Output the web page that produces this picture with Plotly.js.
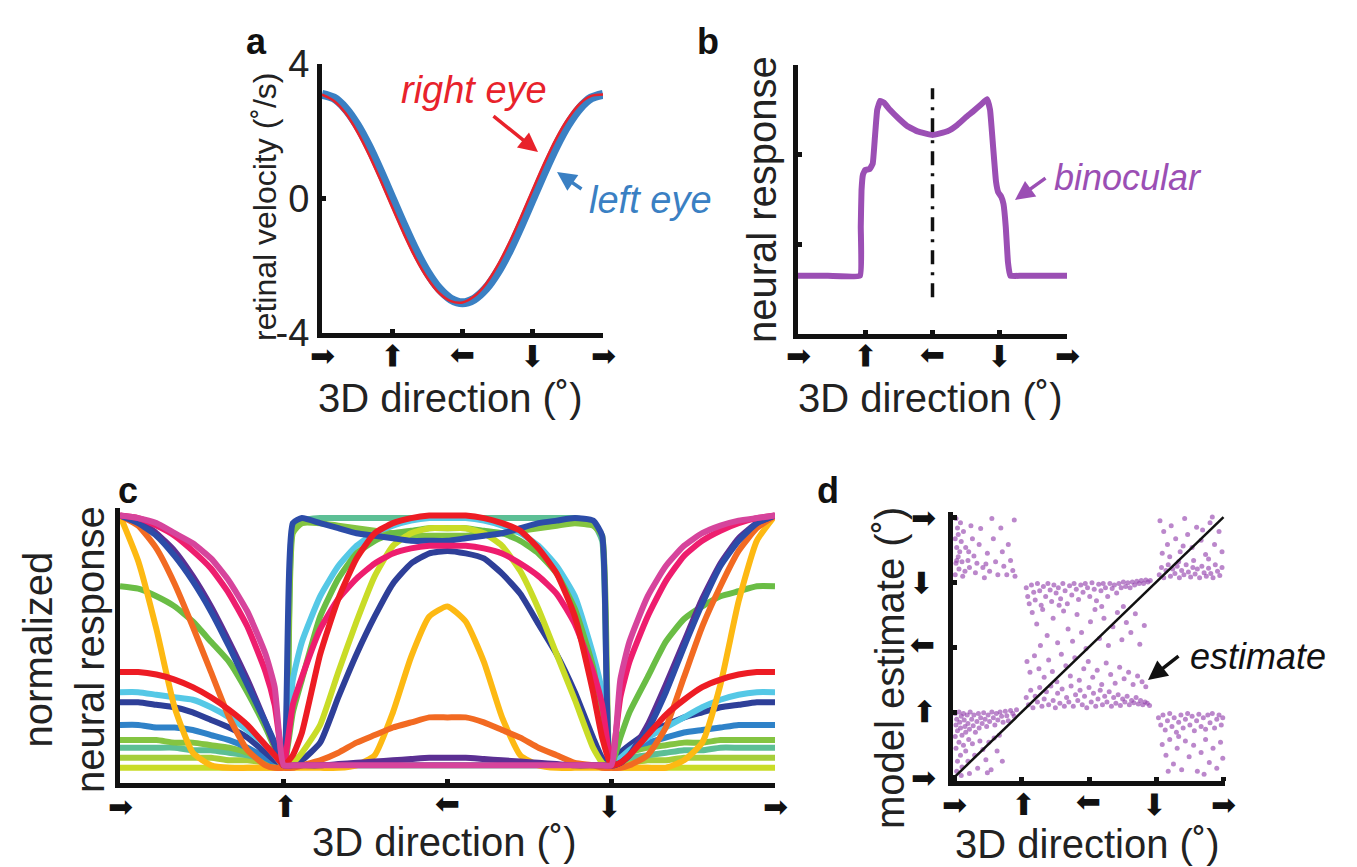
<!DOCTYPE html>
<html>
<head>
<meta charset="utf-8">
<script src="https://cdn.plot.ly/plotly-3.0.1.min.js"></script>
<style>html,body{margin:0;padding:0;background:#fff;}#fig{width:1357px;height:867px;}</style>
</head>
<body>
<div id="fig"></div>
<script>
// ---------- shared tick data ----------
const dirTicks = [0, 90, 180, 270, 360];
const dirArrowGlyph = '➡';
const dirArrowAngles = [0, -90, 180, 90, 0];   // right, up(toward), left, down(away), right

// ---------- panel a: retinal velocity ----------
const velDir = [0,15,30,45,60,75,90,105,120,135,150,165,180,195,210,225,240,255,270,285,300,315,330,345,360];
const leftEyeVel = [3.1,2.99,2.68,2.19,1.55,0.80,0,-0.80,-1.55,-2.19,-2.68,-2.99,-3.1,-2.99,-2.68,-2.19,-1.55,-0.80,0,0.80,1.55,2.19,2.68,2.99,3.1];
const rightEyeVel = [3.09,2.91,2.54,1.99,1.31,0.54,-0.27,-1.06,-1.78,-2.37,-2.81,-3.05,-3.09,-2.91,-2.54,-1.99,-1.31,-0.54,0.27,1.06,1.78,2.37,2.81,3.05,3.09];
const velTicks = [-4, 0, 4];
const velTickText = ['-4', '0', '4'];

// ---------- panel b: binocular response ----------
const binDir = [0,40,83,84,85,87,90,96,100,103,106,110,115,123,135,146,160,180,200,213,225,234,245,253,257,261,265,268,272,275,278,281,284,300,360];
const binResp = [0.65,0.65,0.65,1.2,1.6,1.78,1.83,1.84,1.9,2.2,2.5,2.6,2.58,2.5,2.4,2.32,2.26,2.22,2.26,2.33,2.42,2.48,2.56,2.62,2.5,2.1,1.7,1.58,1.53,1.45,1.2,0.8,0.65,0.65,0.65];
const midlineDir = [180, 180];
const midlineResp = [0.41, 2.74];

// ---------- panel c: normalized population responses ----------
const popDir = [0,10,20,30,40,50,60,70,80,85,90,95,100,110,120,130,140,150,160,170,180,190,200,210,220,230,240,250,260,265,270,275,280,290,300,310,320,330,340,350,360];
const respLightGreen = [0.04,0.04,0.04,0.04,0.04,0.04,0.03,0.03,0.02,0.01,0.01, 0.01,0.01,0.01,0.01,0.01,0.01,0.01,0.01,0.01,0.01,0.01,0.01,0.01,0.01,0.01,0.01,0.01,0.01,0.01, 0.01,0.02,0.02,0.03,0.03,0.04,0.04,0.04,0.04,0.04,0.04];
const respTeal = [0.08,0.08,0.08,0.08,0.07,0.07,0.06,0.05,0.03,0.01,0.01, 0.95,0.98,0.99,0.99,0.99,0.99,0.99,0.99,0.99,0.99,0.99,0.99,0.99,0.99,0.99,0.99,0.99,0.97,0.9, 0.01,0.03,0.04,0.05,0.06,0.07,0.07,0.08,0.08,0.08,0.08];
const respGreenSquare = [0.11,0.11,0.11,0.1,0.1,0.09,0.08,0.06,0.03,0.02,0.01, 0.93,0.97,0.97,0.96,0.95,0.94,0.93,0.92,0.92,0.92,0.92,0.93,0.93,0.94,0.95,0.96,0.97,0.96,0.92, 0.01,0.04,0.06,0.08,0.09,0.1,0.1,0.11,0.11,0.11,0.11];
const respMidBlue = [0.17,0.17,0.16,0.16,0.15,0.13,0.11,0.08,0.04,0.02,0.01, 0.01,0.01,0.01,0.01,0.01,0.01,0.01,0.01,0.01,0.01,0.01,0.01,0.01,0.01,0.01,0.01,0.01,0.01,0.01, 0.01,0.06,0.08,0.1,0.12,0.14,0.15,0.16,0.17,0.17,0.17];
const respDarkBlueArch = [0.26,0.26,0.25,0.24,0.22,0.19,0.16,0.12,0.06,0.03,0.01, 0.01,0.03,0.1,0.28,0.45,0.6,0.73,0.81,0.85,0.86,0.85,0.83,0.77,0.69,0.57,0.45,0.3,0.12,0.04, 0.01,0.06,0.09,0.14,0.17,0.2,0.22,0.24,0.25,0.26,0.26];
const respCyan = [0.3,0.3,0.29,0.28,0.27,0.24,0.2,0.15,0.09,0.05,0.01, 0.35,0.5,0.68,0.8,0.88,0.93,0.96,0.98,0.99,0.99,0.99,0.98,0.96,0.93,0.88,0.8,0.68,0.45,0.3, 0.01,0.04,0.07,0.12,0.16,0.2,0.24,0.27,0.29,0.3,0.3];
const respGreen = [0.72,0.71,0.68,0.64,0.58,0.5,0.42,0.3,0.16,0.08,0.01, 0.22,0.35,0.6,0.75,0.85,0.9,0.93,0.94,0.95,0.95,0.95,0.94,0.93,0.9,0.85,0.77,0.63,0.4,0.2, 0.01,0.12,0.22,0.36,0.5,0.59,0.64,0.68,0.7,0.72,0.72];
const respLime = [0,0,0,0,0,0,0,0,0,0,0, 0.02,0.06,0.17,0.38,0.58,0.76,0.88,0.93,0.95,0.95,0.95,0.93,0.88,0.78,0.63,0.45,0.27,0.08,0.02, 0,0,0,0,0,0,0,0,0,0,0];
const respYellow = [1,0.82,0.55,0.24,0.06,0.01,0,0,0,0,0, 0,0,0,0,0.01,0.05,0.22,0.44,0.6,0.64,0.58,0.42,0.2,0.05,0.01,0,0,0,0, 0,0,0,0,0,0.03,0.1,0.33,0.66,0.9,1];
const respOrange = [1,0.96,0.87,0.73,0.56,0.38,0.2,0.07,0.01,0,0, 0,0.01,0.03,0.06,0.1,0.13,0.16,0.18,0.2,0.2,0.2,0.18,0.15,0.12,0.08,0.05,0.02,0.01,0, 0,0,0.01,0.05,0.16,0.36,0.56,0.72,0.86,0.95,1];
const respPurple = [1,0.98,0.93,0.86,0.76,0.64,0.5,0.35,0.18,0.09,0.01, 0.01,0.01,0.01,0.015,0.02,0.025,0.03,0.035,0.04,0.04,0.04,0.035,0.03,0.025,0.02,0.015,0.01,0.01,0.01, 0.01,0.02,0.05,0.17,0.33,0.5,0.67,0.81,0.91,0.97,1];
const respDarkBlueSquare = [1,0.97,0.92,0.84,0.74,0.62,0.48,0.33,0.18,0.1,0.01, 0.97,0.99,0.97,0.95,0.93,0.92,0.91,0.9,0.9,0.9,0.91,0.92,0.93,0.95,0.97,0.98,0.99,0.98,0.92, 0.01,0.02,0.05,0.15,0.3,0.48,0.65,0.8,0.9,0.97,1];
const respPink = [1,0.99,0.96,0.92,0.86,0.79,0.69,0.56,0.38,0.25,0.01, 0.25,0.36,0.55,0.67,0.75,0.81,0.85,0.87,0.88,0.88,0.88,0.87,0.85,0.81,0.76,0.69,0.57,0.38,0.25, 0.01,0.28,0.42,0.6,0.74,0.84,0.9,0.94,0.97,0.99,1];
const respRed = [0.38,0.38,0.37,0.35,0.32,0.28,0.23,0.17,0.09,0.05,0.01, 0.05,0.14,0.45,0.67,0.83,0.93,0.97,0.99,1.0,1.0,1.0,0.99,0.97,0.94,0.87,0.77,0.6,0.3,0.12, 0.01,0.02,0.05,0.13,0.21,0.27,0.32,0.35,0.37,0.38,0.38];
const respMagenta = [1,0.99,0.97,0.93,0.89,0.83,0.74,0.62,0.45,0.32,0.01, 0.01,0.01,0.01,0.01,0.01,0.01,0.01,0.01,0.01,0.01,0.01,0.01,0.01,0.01,0.01,0.01,0.01,0.01,0.01, 0.01,0.35,0.5,0.68,0.8,0.88,0.93,0.96,0.98,0.99,1];

// ---------- panel d: model estimates (direction, estimate) ----------
const estTopLeft = [[2,358],[4,345],[1,330],[3,318],[5,305],[2,296],[6,288],[1,280],[8,352],[9,326],[7,312],[10,298],[12,340],[14,285],[11,278],[15,318],[18,300],[20,290],[22,348],[24,330],[26,306],[28,283],[30,296],[33,322],[35,344],[38,290],[40,276],[44,310],[47,285],[50,358],[52,330],[55,298],[58,280],[62,345],[64,312],[66,292],[70,280],[72,322],[75,300],[78,286],[80,356],[81,278],[3,300],[5,336],[19,312],[42,295]];
const estBottomLeft = [[1,88],[3,80],[2,72],[4,64],[1,56],[6,90],[7,76],[8,68],[9,84],[10,58],[12,88],[13,79],[14,70],[15,62],[17,86],[18,74],[20,66],[21,90],[23,80],[25,71],[26,86],[28,62],[30,77],[32,88],[33,68],[35,82],[37,74],[39,89],[41,80],[43,70],[45,86],[47,77],[50,90],[52,82],[54,72],[56,88],[58,79],[61,90],[63,84],[65,76],[68,91],[70,85],[72,78],[75,92],[78,88],[80,84],[83,93],[2,40],[4,22],[3,8],[6,48],[8,30],[10,14],[12,44],[15,36],[18,22],[20,5],[24,46],[27,30],[31,12],[34,50],[38,38],[42,24],[46,48],[49,10],[53,54],[57,36],[60,58],[64,22],[19,52],[9,2],[44,6]];
const estMidUpper = [[96,262],[98,250],[100,240],[103,266],[106,256],[108,245],[111,268],[114,258],[116,238],[119,264],[122,250],[125,268],[128,259],[130,243],[133,266],[136,255],[139,262],[142,247],[145,268],[148,258],[151,240],[154,265],[157,252],[160,268],[163,260],[166,246],[169,266],[172,256],[175,268],[178,262],[181,250],[184,269],[187,260],[190,244],[193,267],[196,258],[199,268],[202,262],[205,250],[208,268],[211,261],[214,266],[217,255],[220,268],[223,262],[226,270],[229,264],[232,269],[235,262],[238,270],[241,266],[244,271],[247,268],[250,272],[253,268],[256,273],[259,270],[262,272]];
const estMidScatter = [[104,228],[110,212],[118,232],[124,196],[132,220],[138,186],[146,230],[152,205],[158,188],[164,225],[170,200],[176,178],[182,215],[188,232],[194,192],[200,220],[206,182],[212,208],[218,228],[224,190],[230,214],[236,200],[242,226],[248,184],[254,210],[115,182],[140,238],[197,236],[226,236]];
const estMidLower = [[97,160],[101,145],[107,168],[113,150],[120,138],[126,162],[131,146],[137,132],[143,170],[149,154],[155,140],[161,165],[167,134],[173,150],[179,160],[185,138],[191,148],[197,128],[203,158],[209,142],[215,130],[221,152],[227,136],[233,145],[239,128],[245,140],[251,132],[256,125],[96,110],[99,100],[102,120],[105,96],[108,112],[111,104],[114,124],[117,98],[120,108],[123,118],[126,100],[129,126],[132,106],[135,96],[138,116],[141,102],[144,122],[147,98],[150,110],[153,104],[156,126],[159,98],[162,114],[165,106],[168,120],[171,100],[174,112],[177,96],[180,124],[183,104],[186,116],[189,98],[192,108],[195,120],[198,100],[201,112],[204,104],[207,118],[210,98],[213,110],[216,102],[219,114],[222,99],[225,108],[228,104],[231,112],[234,100],[237,106],[240,103],[243,110],[246,101],[249,106],[252,100],[255,104],[258,102],[261,99]];
const estTopRight = [[274,280],[277,290],[280,276],[283,286],[286,294],[289,278],[292,288],[295,282],[298,292],[301,276],[304,286],[307,280],[310,294],[313,284],[316,277],[319,290],[322,281],[325,288],[328,276],[331,292],[334,283],[337,278],[340,289],[343,282],[346,276],[349,294],[352,285],[355,279],[358,290],[300,298],[320,300],[340,302],[275,355],[280,340],[285,322],[290,348],[296,330],[302,312],[308,358],[312,336],[318,318],[324,346],[330,328],[336,308],[342,352],[348,322],[354,340],[358,312],[288,305],[345,360],[306,320],[332,342],[278,310]];
const estBottomRight = [[273,82],[276,72],[279,86],[282,65],[285,78],[288,88],[291,70],[294,82],[297,62],[300,76],[303,86],[306,68],[309,80],[312,88],[315,72],[318,84],[321,64],[324,78],[327,87],[330,70],[333,82],[336,66],[339,86],[342,75],[345,88],[348,68],[351,80],[354,86],[357,72],[359,82],[278,45],[283,30],[288,52],[293,18],[298,40],[304,10],[309,50],[314,28],[320,44],[325,8],[330,34],[336,52],[341,20],[346,40],[351,12],[356,48],[359,26],[300,56],[286,8],[334,4]];
const veridicalDir = [0, 360];
const veridicalEst = [0, 360];

// ---------- build ----------
const FONT = 'Liberation Sans, Arial, Helvetica, sans-serif';
const ARROWFONT = {family: 'DejaVu Sans', size: 30, color: '#111'};

function axis(extra) {
  return Object.assign({
    showline: true, linewidth: 5, linecolor: '#111', mirror: false,
    showgrid: false, zeroline: false, fixedrange: true,
    ticks: 'inside', ticklen: 4, tickwidth: 5, tickcolor: '#111'
  }, extra);
}
function dirAxis(domain, anchor, range) {
  return axis({domain: domain, anchor: anchor, range: range,
    tickmode: 'array', tickvals: dirTicks, showticklabels: false});
}

const traces = [];
// panel a
traces.push({x: velDir, y: leftEyeVel, xaxis: 'x', yaxis: 'y', mode: 'lines',
  line: {color: '#3a80c3', width: 9, shape: 'spline', smoothing: 0.8}});
traces.push({x: velDir, y: rightEyeVel, xaxis: 'x', yaxis: 'y', mode: 'lines',
  line: {color: '#e8222b', width: 2.5, shape: 'spline', smoothing: 0.8}});
// panel b
traces.push({x: midlineDir, y: midlineResp, xaxis: 'x2', yaxis: 'y2', mode: 'lines',
  line: {color: '#111', width: 3.5, dash: '14px,8px,3px,8px'}});
traces.push({x: binDir, y: binResp, xaxis: 'x2', yaxis: 'y2', mode: 'lines',
  line: {color: '#9b4fb4', width: 6, shape: 'spline', smoothing: 0.3}});
// panel c
const popSeries = [
  [respLightGreen, '#a6ce39'], [respTeal, '#5cbf95'], [respGreenSquare, '#84c441'],
  [respMidBlue, '#2f82c8'], [respDarkBlueArch, '#2e3f98'], [respCyan, '#55c8e6'],
  [respGreen, '#6abd45'], [respLime, '#c9dc27'], [respYellow, '#fdb913'],
  [respOrange, '#f26a22'], [respPurple, '#5b2f93'], [respDarkBlueSquare, '#2c4ca8'],
  [respPink, '#ee1d6e'], [respRed, '#ed1c24'], [respMagenta, '#d6449c']
];
popSeries.forEach(function (s) {
  traces.push({x: popDir, y: s[0], xaxis: 'x3', yaxis: 'y3', mode: 'lines',
    line: {color: s[1], width: 6, shape: 'spline', smoothing: 0.5}});
});
// panel d
const allEst = [].concat(estTopLeft, estBottomLeft, estMidUpper, estMidScatter, estMidLower, estTopRight, estBottomRight);
traces.push({x: allEst.map(p => p[0]), y: allEst.map(p => p[1]), xaxis: 'x4', yaxis: 'y4',
  mode: 'markers', marker: {color: 'rgba(150,70,175,0.65)', size: 5}, cliponaxis: false});
traces.push({x: veridicalDir, y: veridicalEst, xaxis: 'x4', yaxis: 'y4', mode: 'lines',
  line: {color: '#111', width: 2.5}});

function P(px) { return px / 1357; }
function Q(py) { return 1 - py / 867; }

const txt = (t, x, y, size, color, extra) => Object.assign({
  text: t, x: x, y: y, xref: 'paper', yref: 'paper', showarrow: false,
  xanchor: 'center', yanchor: 'middle',
  font: {family: FONT, size: size, color: color || '#222'}
}, extra || {});
const arr = (hx, hy, tx, ty, color) => ({
  text: '', x: P(hx), y: Q(hy), xref: 'paper', yref: 'paper', showarrow: true,
  ax: tx - hx, ay: ty - hy, arrowhead: 2, arrowsize: 1.1, arrowwidth: 3.5, arrowcolor: color
});

const annotations = [
  txt('<b>a</b>', P(256), Q(42), 36, '#111'),
  txt('<b>b</b>', P(708), Q(42), 36, '#111'),
  txt('<b>c</b>', P(128), Q(490), 36, '#111'),
  txt('<b>d</b>', P(828), Q(490), 36, '#111'),
  txt('3D direction (˚)', P(450), Q(398), 40),
  txt('3D direction (˚)', P(930), Q(398), 40),
  txt('3D direction (˚)', P(445), Q(842), 40),
  txt('3D direction (˚)', P(1087), Q(844), 40),
  txt('retinal velocity (˚/s)', P(265), Q(207), 32, '#222', {textangle: -90}),
  txt('neural response', P(762), Q(200), 40, '#222', {textangle: -90}),
  txt('normalized<br>neural response', P(64), Q(650), 40, '#222', {textangle: -90}),
  txt('model estimate (˚)', P(890), Q(668), 40, '#222', {textangle: -90}),
  txt('<i>right eye</i>', P(474), Q(90), 38, '#e8222b'),
  txt('<i>left eye</i>', P(587), Q(200), 38, '#3a80c3', {xanchor: 'left'}),
  txt('<i>binocular</i>', P(1052), Q(178), 36, '#9b4fb4', {xanchor: 'left'}),
  txt('<i>estimate</i>', P(1188), Q(656), 36, '#111', {xanchor: 'left'}),
  arr(538, 152, 492, 115, '#e8222b'),
  arr(557, 172, 583, 190, '#3a80c3'),
  arr(1015, 200, 1047, 177, '#9b4fb4'),
  arr(1148, 680, 1180, 655, '#111')
];

// direction tick glyphs (arrow symbols placed at each tick value)
function dirTickLabels(xref, yPaper) {
  dirTicks.forEach(function (v, i) {
    annotations.push({text: dirArrowGlyph, x: v, xref: xref, y: yPaper, yref: 'paper',
      showarrow: false, xanchor: 'center', yanchor: 'middle', textangle: dirArrowAngles[i],
      font: ARROWFONT});
  });
}
function dirTickLabelsY(yref, xPaper) {
  dirTicks.forEach(function (v, i) {
    annotations.push({text: dirArrowGlyph, y: v, yref: yref, x: xPaper, xref: 'paper',
      showarrow: false, xanchor: 'center', yanchor: 'middle', textangle: dirArrowAngles[i],
      font: ARROWFONT});
  });
}
dirTickLabels('x', Q(356));
dirTickLabels('x2', Q(356));
dirTickLabels('x3', Q(806));
dirTickLabels('x4', Q(804));
dirTickLabelsY('y4', P(923));

const layout = {
  width: 1357, height: 867, margin: {l: 0, r: 0, t: 0, b: 0},
  paper_bgcolor: '#fff', plot_bgcolor: 'rgba(0,0,0,0)', showlegend: false,
  font: {family: FONT, color: '#222'},
  // a
  xaxis: dirAxis([P(322), P(603)], 'y', [0, 360]),
  yaxis: axis({domain: [Q(333), Q(64)], anchor: 'x', range: [-4, 4], tickmode: 'array',
    tickvals: velTicks, ticktext: velTickText, tickfont: {family: FONT, size: 38, color: '#222'}}),
  // b
  xaxis2: dirAxis([P(798), P(1067)], 'y2', [0, 360]),
  yaxis2: axis({domain: [Q(334), Q(65)], anchor: 'x2', range: [0, 3], tickmode: 'array',
    tickvals: [0, 1, 2, 3], showticklabels: false}),
  // c
  xaxis3: dirAxis([P(120), P(775)], 'y3', [0, 360]),
  yaxis3: axis({domain: [Q(783), Q(508)], anchor: 'x3', range: [-0.06, 1.03], ticks: '', showticklabels: false}),
  // d
  xaxis4: dirAxis([P(953), P(1225)], 'y4', [-2, 362]),
  yaxis4: dirAxis([Q(781), Q(512)], 'x4', [-5.5, 367]),
  annotations: annotations
};

Plotly.newPlot('fig', traces, layout, {staticPlot: true, displayModeBar: false});
</script>
</body>
</html>
